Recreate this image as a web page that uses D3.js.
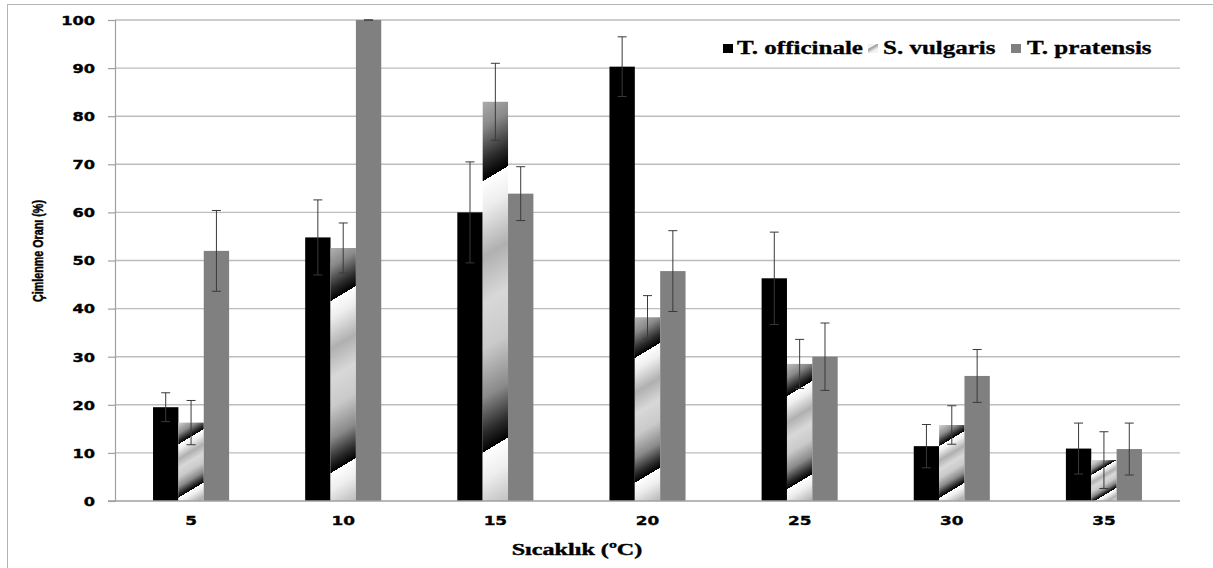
<!DOCTYPE html>
<html>
<head>
<meta charset="utf-8">
<script src="https://cdn.jsdelivr.net/npm/d3@7"></script>
<style>
  body { margin: 0; background: #fff; }
  svg { display: block; }
</style>
</head>
<body>
<svg id="chart" width="1213" height="568"></svg>
<script>
// germination rate by temperature, three species

const temps = ["5", "10", "15", "20", "25", "30", "35"]
const species = ["T. officinale", "S. vulgaris", "T. pratensis"]

const officinale    = [19.5, 54.8, 60.0, 90.3, 46.3, 11.4, 10.9]
const officinaleErr = [3.0, 7.8, 10.5, 6.2, 9.6, 4.5, 5.3]
const vulgaris      = [16.3, 52.6, 83.0, 38.2, 28.5, 15.8, 8.5]
const vulgarisErr   = [4.6, 5.2, 8.0, 4.5, 5.1, 4.0, 5.9]
const pratensis     = [52.0, 100, 63.9, 47.8, 30.0, 26.0, 10.8]
const pratensisErr  = [8.4, 0, 5.6, 8.4, 7.0, 5.5, 5.4]

const yTicks = [0, 10, 20, 30, 40, 50, 60, 70, 80, 90, 100]

const svg = d3.select('#chart')
const plotL = 115, plotR = 1180, plotT = 20, plotB = 501

// outer frame
svg.append('rect')
    .attr('x', 7.5).attr('y', 4.5)
    .attr('width', 1220).attr('height', 580)
    .attr('fill', '#fff')
    .attr('stroke', '#b4b4b4')

const x = d3.scaleBand().domain(temps).range([plotL, plotR])
const xs = d3.scaleBand().domain(species).range([0, x.bandwidth()])
    .paddingInner(0).paddingOuter(1.5)
const y = d3.scaleLinear().domain([0, 100]).range([plotB, plotT])

// build rows from the arrays
const rows = temps.map((t, i) => ({
    temp: t,
    vals: [
        { s: species[0], v: officinale[i], e: officinaleErr[i], i: i },
        { s: species[1], v: vulgaris[i], e: vulgarisErr[i], i: i },
        { s: species[2], v: pratensis[i], e: pratensisErr[i], i: i }
    ]
}))

// gridlines
svg.append('g').selectAll('line')
    .data(yTicks.filter(d => d > 0))
    .join('line')
    .attr('x1', plotL).attr('x2', plotR)
    .attr('y1', d => y(d)).attr('y2', d => y(d))
    .attr('stroke', '#bdbdbd')
    .attr('stroke-width', 1.4)

// gradients for the striped S. vulgaris bars, one per bar
// (coords are in the group's own space, groups are translated by x(temp))
const defs = svg.append('defs')
const stops = [
    [0, '#ffffff'], [0.1, '#eeeeee'], [0.28, '#b0b0b0'], [0.45, '#d8d8d8'],
    [0.62, '#cacaca'], [0.8, '#8a8a8a'], [0.93, '#2a2a2a'], [1, '#000000']
]
rows.forEach((r, i) => {
    const bx = xs(species[1])
    const bw = xs.bandwidth()
    const by = y(vulgaris[i])
    const bh = y(0) - by
    const period = 0.68 * bh
    const dy = period / 1.36
    const dx = 0.6 * dy
    const x0 = bx + bw / 2, y0 = by + 0.18 * bh
    const g = defs.append('linearGradient')
        .attr('id', 'vg' + i)
        .attr('gradientUnits', 'userSpaceOnUse')
        .attr('spreadMethod', 'repeat')
        .attr('x1', x0).attr('y1', y0)
        .attr('x2', x0 + dx).attr('y2', y0 + dy)
    stops.forEach(s => g.append('stop').attr('offset', s[0]).attr('stop-color', s[1]))
})

const lg = defs.append('linearGradient')
    .attr('id', 'legendStripe')
    .attr('x1', 0).attr('y1', 0).attr('x2', 0.5).attr('y2', 0.8)
    .attr('spreadMethod', 'repeat')
;[[0, '#f2f2f2'], [0.45, '#f2f2f2'], [0.55, '#9a9a9a'], [1, '#f2f2f2']]
    .forEach(s => lg.append('stop').attr('offset', s[0]).attr('stop-color', s[1]))

function fillFor(d) {
    if (d.s === species[0]) return '#000'
    if (d.s === species[1]) return `url(#vg${d.i})`
    return '#808080'
}

// bars
const groups = svg.append('g').selectAll('g')
    .data(rows)
    .join('g')
    .attr('transform', d => `translate(${x(d.temp)},0)`)

groups.selectAll('rect')
    .data(d => d.vals)
    .join('rect')
    .attr('x', d => xs(d.s))
    .attr('width', xs.bandwidth())
    .attr('y', d => y(d.v))
    .attr('height', d => y(0) - y(d.v))
    .attr('fill', d => fillFor(d))

// error bars
const cap = 4.5
const eb = groups.selectAll('g.err')
    .data(d => d.vals)
    .join('g')
    .classed('err', true)
    .attr('stroke', '#3a3a3a')
    .attr('stroke-width', 1)
eb.append('line')
    .attr('x1', d => xs(d.s) + xs.bandwidth() / 2)
    .attr('x2', d => xs(d.s) + xs.bandwidth() / 2)
    .attr('y1', d => y(d.v + d.e))
    .attr('y2', d => y(d.v - d.e))
eb.append('line')
    .attr('x1', d => xs(d.s) + xs.bandwidth() / 2 - cap)
    .attr('x2', d => xs(d.s) + xs.bandwidth() / 2 + cap)
    .attr('y1', d => y(d.v + d.e)).attr('y2', d => y(d.v + d.e))
eb.append('line')
    .attr('x1', d => xs(d.s) + xs.bandwidth() / 2 - cap)
    .attr('x2', d => xs(d.s) + xs.bandwidth() / 2 + cap)
    .attr('y1', d => y(d.v - d.e)).attr('y2', d => y(d.v - d.e))

// y axis
const sxNum = 1.35
const yAxis = svg.append('g')
    .attr('transform', `translate(${plotL},0)`)
    .call(d3.axisLeft(y).tickValues(yTicks).tickSize(7).tickPadding(0))
yAxis.select('.domain').attr('stroke', '#a0a0a0').attr('stroke-width', 1.2)
yAxis.selectAll('.tick line').attr('stroke', '#a0a0a0').attr('stroke-width', 1.2)
yAxis.selectAll('.tick text')
    .attr('x', -20 / sxNum)
    .attr('dy', '0.36em')
    .attr('transform', `scale(${sxNum},1)`)
    .attr('font-family', 'DejaVu Sans')
    .attr('font-weight', 'bold')
    .attr('font-size', 12)
    .attr('fill', '#000')
    .attr('stroke', '#000').attr('stroke-width', 0.35)

// x axis
const xAxis = svg.append('g')
    .attr('transform', `translate(0,${plotB})`)
    .call(d3.axisBottom(x).tickSize(0))
xAxis.select('.domain').remove()
svg.append('line')
    .attr('x1', plotL - 7).attr('x2', plotR)
    .attr('y1', y(0)).attr('y2', y(0))
    .attr('stroke', '#a0a0a0').attr('stroke-width', 1.4)
xAxis.selectAll('.tick text')
    .attr('y', 24).attr('dy', null)
    .attr('transform', `scale(${sxNum},1)`)
    .attr('font-family', 'DejaVu Sans')
    .attr('font-weight', 'bold')
    .attr('font-size', 12.5)
    .attr('fill', '#000')
    .attr('stroke', '#000').attr('stroke-width', 0.35)

// axis titles
svg.append('text')
    .attr('transform', 'translate(577,555) scale(1.42,1)')
    .attr('text-anchor', 'middle')
    .attr('font-family', 'Liberation Serif')
    .attr('font-weight', 'bold')
    .attr('font-size', 17)
    .attr('stroke', '#000').attr('stroke-width', 0.4)
    .text('Sıcaklık (ºC)')

svg.append('text')
    .attr('transform', 'translate(43,251) rotate(-90) scale(0.74,1)')
    .attr('text-anchor', 'middle')
    .attr('font-family', 'Liberation Sans')
    .attr('font-weight', 'bold')
    .attr('font-size', 14.5)
    .attr('stroke', '#000').attr('stroke-width', 0.45)
    .text('Çimlenme Oranı (%)')

// legend
const legendItems = [
    { s: species[0], sx: 723, tx: 737, fill: '#000' },
    { s: species[1], sx: 868, tx: 883, fill: 'url(#legendStripe)' },
    { s: species[2], sx: 1011, tx: 1027, fill: '#808080' }
]
const leg = svg.append('g')
leg.selectAll('rect')
    .data(legendItems)
    .join('rect')
    .attr('x', d => d.sx).attr('y', 44)
    .attr('width', 10).attr('height', 9)
    .attr('fill', d => d.fill)
leg.selectAll('text')
    .data(legendItems)
    .join('text')
    .attr('transform', d => `translate(${d.tx},54) scale(1.39,1)`)
    .attr('font-family', 'Liberation Serif')
    .attr('font-weight', 'bold')
    .attr('font-size', 18)
    .attr('stroke', '#000').attr('stroke-width', 0.3)
    .text(d => d.s)
</script>
</body>
</html>
